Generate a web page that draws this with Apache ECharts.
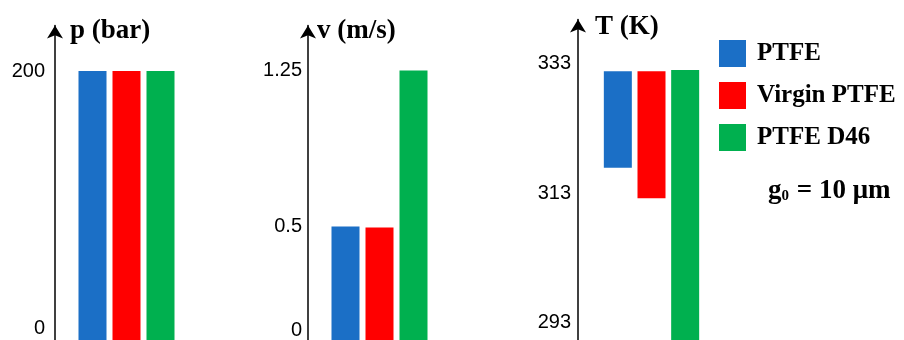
<!DOCTYPE html>
<html>
<head>
<meta charset="utf-8">
<script src="https://cdn.jsdelivr.net/npm/echarts@6/dist/echarts.min.js"></script>
<style>
  html, body { margin: 0; padding: 0; background: #fff; }
  #chart { width: 904px; height: 340px; }
</style>
</head>
<body>
<div id="chart"></div>
<script>
// Materials compared in each panel
const materials = ['PTFE', 'Virgin PTFE', 'PTFE D46'];
// Contact pressure, bar
const pressure = [200, 200, 200];
// Sliding velocity, m/s
const velocity = [0.5, 0.495, 1.25];
// Temperature span, K (upper and lower end of each column)
const tempHigh = [331.8, 331.8, 332.0];
const tempLow = [316.9, 312.2, 290.0];
// Labelled ticks on each axis
const pressureTicks = [0, 200];
const velocityTicks = [0, 0.5, 1.25];
const tempTicks = [293, 313, 333];

const colors = ['#1B6FC6', '#FF0000', '#00B04F'];
const SERIF = '"Liberation Serif", "DejaVu Serif", serif';
const SANS = '"Liberation Sans", Arial, sans-serif';
const BAR_W = 28;

function tickFormatter(ticks) {
  return function (v) {
    for (let i = 0; i < ticks.length; i++) {
      if (Math.abs(v - ticks[i]) < 1e-6) return String(ticks[i]);
    }
    return '';
  };
}

// Column rising from the floor of the panel up to its value
function risingColumn(params, api) {
  const top = api.coord([api.value(0), api.value(1)]);
  const cs = params.coordSys;
  return {
    type: 'rect',
    shape: { x: top[0] - BAR_W / 2, y: top[1], width: BAR_W, height: cs.y + cs.height - top[1] },
    style: api.style()
  };
}

// Column spanning between an upper and a lower temperature
function spanColumn(params, api) {
  const hi = api.coord([api.value(0), api.value(1)]);
  const lo = api.coord([api.value(0), api.value(2)]);
  return {
    type: 'rect',
    shape: { x: hi[0] - BAR_W / 2, y: hi[1], width: BAR_W, height: lo[1] - hi[1] },
    style: api.style()
  };
}

function nameStyle(padLeft) {
  return {
    fontFamily: SERIF, fontWeight: 'bold', fontSize: 27, color: '#000',
    align: 'left', verticalAlign: 'middle', padding: [0, 0, 0, padLeft]
  };
}

function yAxisBase(extra) {
  return Object.assign({
    type: 'value',
    axisLine: {
      show: true,
      symbol: ['none', 'arrow'],
      symbolSize: [12, 13],
      lineStyle: { color: '#000', width: 1.5 }
    },
    axisTick: { show: false },
    splitLine: { show: false },
    nameLocation: 'end'
  }, extra);
}

const series = [];
materials.forEach(function (name, i) {
  series.push({
    name: name, type: 'custom', xAxisIndex: 0, yAxisIndex: 0, clip: true,
    itemStyle: { color: colors[i] }, renderItem: risingColumn,
    data: [[i, pressure[i]]]
  });
  series.push({
    name: name, type: 'custom', xAxisIndex: 1, yAxisIndex: 1, clip: true,
    itemStyle: { color: colors[i] }, renderItem: risingColumn,
    data: [[i, velocity[i]]]
  });
  series.push({
    name: name, type: 'custom', xAxisIndex: 2, yAxisIndex: 2, clip: true,
    itemStyle: { color: colors[i] }, renderItem: spanColumn,
    data: [[i, tempHigh[i], tempLow[i]]]
  });
});

const chart = echarts.init(document.getElementById('chart'), null, { renderer: 'canvas' });
chart.setOption({
  animation: false,
  backgroundColor: '#fff',
  grid: [
    { left: 75.5, top: 25.5, width: 102, height: 328.2, outerBoundsMode: 'none', containLabel: false },
    { left: 328.5, top: 25.5, width: 102, height: 325.8, outerBoundsMode: 'none', containLabel: false },
    { left: 601, top: 19.5, width: 101, height: 341.9, outerBoundsMode: 'none', containLabel: false }
  ],
  xAxis: [0, 1, 2].map(function (g) {
    return { type: 'category', gridIndex: g, data: materials, show: false };
  }),
  yAxis: [
    yAxisBase({
      gridIndex: 0, min: -20, max: 235.41, interval: 20, offset: 20.5,
      name: 'p (bar)', nameGap: -5.5, nameTextStyle: nameStyle(15),
      axisLabel: { fontFamily: SANS, fontSize: 20, color: '#000', margin: 10,
        formatter: tickFormatter(pressureTicks) }
    }),
    yAxisBase({
      gridIndex: 1, min: -0.1, max: 1.4663, interval: 0.05, offset: 20.5,
      name: 'v (m/s)', nameGap: -5.5, nameTextStyle: nameStyle(9),
      axisLabel: { fontFamily: SANS, fontSize: 20, color: '#000', margin: 6,
        formatter: tickFormatter(velocityTicks) }
    }),
    yAxisBase({
      gridIndex: 2, min: 287, max: 339.8, interval: 1, offset: 23,
      name: 'T (K)', nameGap: -7.5, nameTextStyle: nameStyle(17),
      axisLabel: { fontFamily: SANS, fontSize: 20, color: '#000', margin: 7,
        formatter: tickFormatter(tempTicks) }
    })
  ],
  legend: {
    data: materials,
    orient: 'vertical',
    left: 719, top: 40,
    padding: 0,
    icon: 'rect',
    itemWidth: 27, itemHeight: 27, itemGap: 15,
    selectedMode: false,
    textStyle: { fontFamily: SERIF, fontWeight: 'bold', fontSize: 25, color: '#000',
      lineHeight: 27, padding: [0, 0, 0, 6] }
  },
  graphic: [{
    type: 'text',
    left: 768, top: 178,
    style: {
      text: '{a|g}{s|0}{a| = 10 μm}',
      rich: {
        a: { fontFamily: SERIF, fontWeight: 'bold', fontSize: 27, fill: '#000', lineHeight: 30 },
        s: { fontFamily: SERIF, fontWeight: 'bold', fontSize: 15, fill: '#000',
             lineHeight: 30, padding: [9, 1, 0, 0] }
      }
    }
  }],
  series: series
});
</script>
</body>
</html>
